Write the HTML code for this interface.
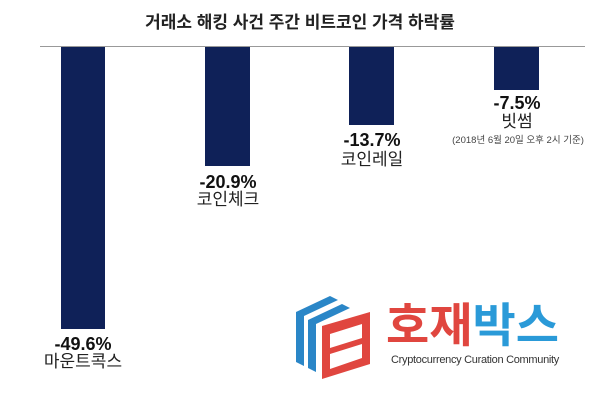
<!DOCTYPE html>
<html><head><meta charset="utf-8"><style>
body{margin:0;width:600px;height:400px;background:#fff;overflow:hidden;position:relative;font-family:"Liberation Sans","Noto Sans CJK KR",sans-serif}
.a{position:absolute}
.bar{position:absolute;background:#0f2158;top:47px}
.v{position:absolute;font-weight:bold;font-size:18px;color:#111;text-align:center;width:120px;line-height:20px}
.n{position:absolute;font-size:17px;color:#222;text-align:center;width:120px;line-height:20px}
</style></head><body>
<div class="a" style="left:0;width:600px;top:8px;text-align:center;font-size:17px;font-weight:bold;color:#222">거래소 해킹 사건 주간 비트코인 가격 하락률</div>
<div class="a" style="left:40px;width:545px;top:46px;height:1px;background:#999"></div>
<div class="bar" style="left:61px;width:44px;height:282px"></div>
<div class="bar" style="left:205px;width:45px;height:119px"></div>
<div class="bar" style="left:349px;width:45px;height:78px"></div>
<div class="bar" style="left:494px;width:45px;height:43px"></div>
<div class="v" style="left:23px;top:334px">-49.6%</div>
<div class="n" style="left:23px;top:352px">마운트콕스</div>
<div class="v" style="left:168px;top:172px">-20.9%</div>
<div class="n" style="left:168px;top:190px">코인체크</div>
<div class="v" style="left:312px;top:130px">-13.7%</div>
<div class="n" style="left:312px;top:150px">코인레일</div>
<div class="v" style="left:457px;top:93px">-7.5%</div>
<div class="n" style="left:457px;top:112px">빗썸</div>
<div class="a" style="left:448px;width:140px;top:132px;font-size:9.5px;color:#444;text-align:center;white-space:nowrap">(2018년 6월 20일 오후 2시 기준)</div>
<svg class="a" style="left:296px;top:290px" width="76" height="90" viewBox="0 0 76 90">
<polygon points="0,22 34,6 42,10 8,26 8,76 0,72" fill="#2a86c7"/>
<polygon points="12,30 46,14 54,18 20,34 20,82 12,78" fill="#2a86c7"/>
<polygon points="26,36 74,22 74,74 26,89" fill="#e0463f"/>
<polygon points="34,44 66,34 66,48 34,58" fill="#fff"/>
<polygon points="34,64 66,54 66,68 34,79" fill="#fff"/>
</svg>
<div class="a" style="left:386px;top:300px;font-size:47px;font-weight:bold;line-height:52px;letter-spacing:0px"><span style="color:#e0463f">호재</span><span style="color:#2a9ad8">박스</span></div>
<div class="a" style="left:391px;top:354px;font-size:11px;letter-spacing:-0.3px;color:#333">Cryptocurrency Curation Community</div>
</body></html>
